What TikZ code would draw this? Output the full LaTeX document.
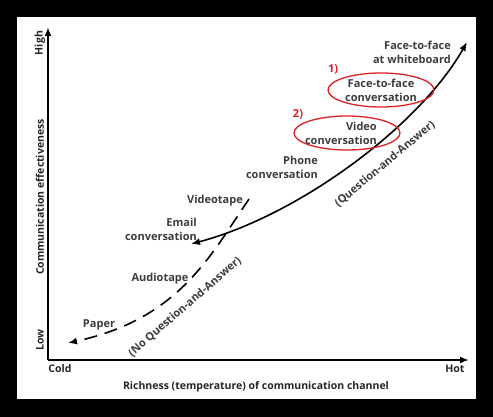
\documentclass[tikz,border=0pt]{standalone}
\usepackage{fontspec}
\setmainfont{Open Sans}
\usetikzlibrary{arrows.meta, positioning, shapes.geometric}
\definecolor{cText}{RGB}{60,60,60}
\definecolor{cMark}{RGB}{220,35,35}

\begin{document}
\begin{tikzpicture}[x=1pt, y=-1pt,
      lbl/.style={font=\fontsize{11}{14}\selectfont\bfseries, text=cText,
                  align=right, inner sep=0pt},
      axlbl/.style={font=\fontsize{10.5}{13}\selectfont\bfseries, text=black!85, inner sep=0pt},
      num/.style={font=\fontsize{11}{14}\selectfont\bfseries, text=cMark, inner sep=0pt},
      ell/.style={ellipse, draw=cMark, line width=1.3pt, minimum width=106pt,
                  minimum height=34pt, inner sep=0pt},
      >={Latex[length=9pt,width=7pt]}]
    % frame
    \fill[black] (0,0) rectangle (493,417);
    \fill[white] (17,17) rectangle (476,399);
    \useasboundingbox (0,0) rectangle (493,417);

    % axes
    \coordinate (origin) at (48,360);
    \coordinate (ytip)   at (48,27);
    \coordinate (xtip)   at (469,360);
    \draw[->, line width=2.2pt] (origin) -- (ytip);
    \draw[->, line width=2.2pt] (origin) -- (xtip);
    \node[axlbl, rotate=90] (high) at (40,43)  {High};
    \node[axlbl, rotate=90] (low)  at (40,340) {Low};
    \node[axlbl, rotate=90] (yname) at (40,197) {Communication effectiveness};
    \node[axlbl] (cold) at (60,369)  {Cold};
    \node[axlbl] (hot)  at (455,369) {Hot};
    \node[axlbl] (xname) at (256,387) {Richness (temperature) of communication channel};

    % curve ends
    \coordinate (qaS) at (191,244);
    \coordinate (qaE) at (467,42);
    \coordinate (nqS) at (68,343);
    \coordinate (nqE) at (249,199);
    \draw[<->, line width=1.6pt] (qaS) .. controls (300,215) and (420,125) .. (qaE);
    \draw[->, line width=1.6pt, dash pattern=on 13pt off 8pt]
        (nqE) .. controls (209,258) and (178,319) .. (nqS);

    % channels
    \node[lbl] (paper) at (99,325)  {Paper};
    \node[lbl] (audio) at (160,279) {Audiotape};
    \node[lbl, anchor=east] (email) at (197,229) {Email\\conversation};
    \node[lbl, anchor=east] (vtape) at (243,201) {Videotape};
    \node[lbl, anchor=east] (phone) at (318,167) {Phone\\conversation};
    \node[ell] (video) at (347,133) {};
    \node[lbl, anchor=east] (videotxt) at (377,133) {Video\\conversation};
    \node[lbl, ell, align=center] (f2f) at (381,90) {Face-to-face\\conversation};
    \node[lbl, anchor=east] (board) at (451,52) {Face-to-face\\at whiteboard};
    \node[num] (n1) at (333,69)  {1)};
    \node[num] (n2) at (298,114) {2)};

    % curve names
    \node[lbl, rotate=40] (qa) at (385,164) {(Question-and-Answer)};
    \node[lbl, rotate=41] (nqa) at (185,307) {(No Question-and-Answer)};
  \end{tikzpicture}
\end{document}
